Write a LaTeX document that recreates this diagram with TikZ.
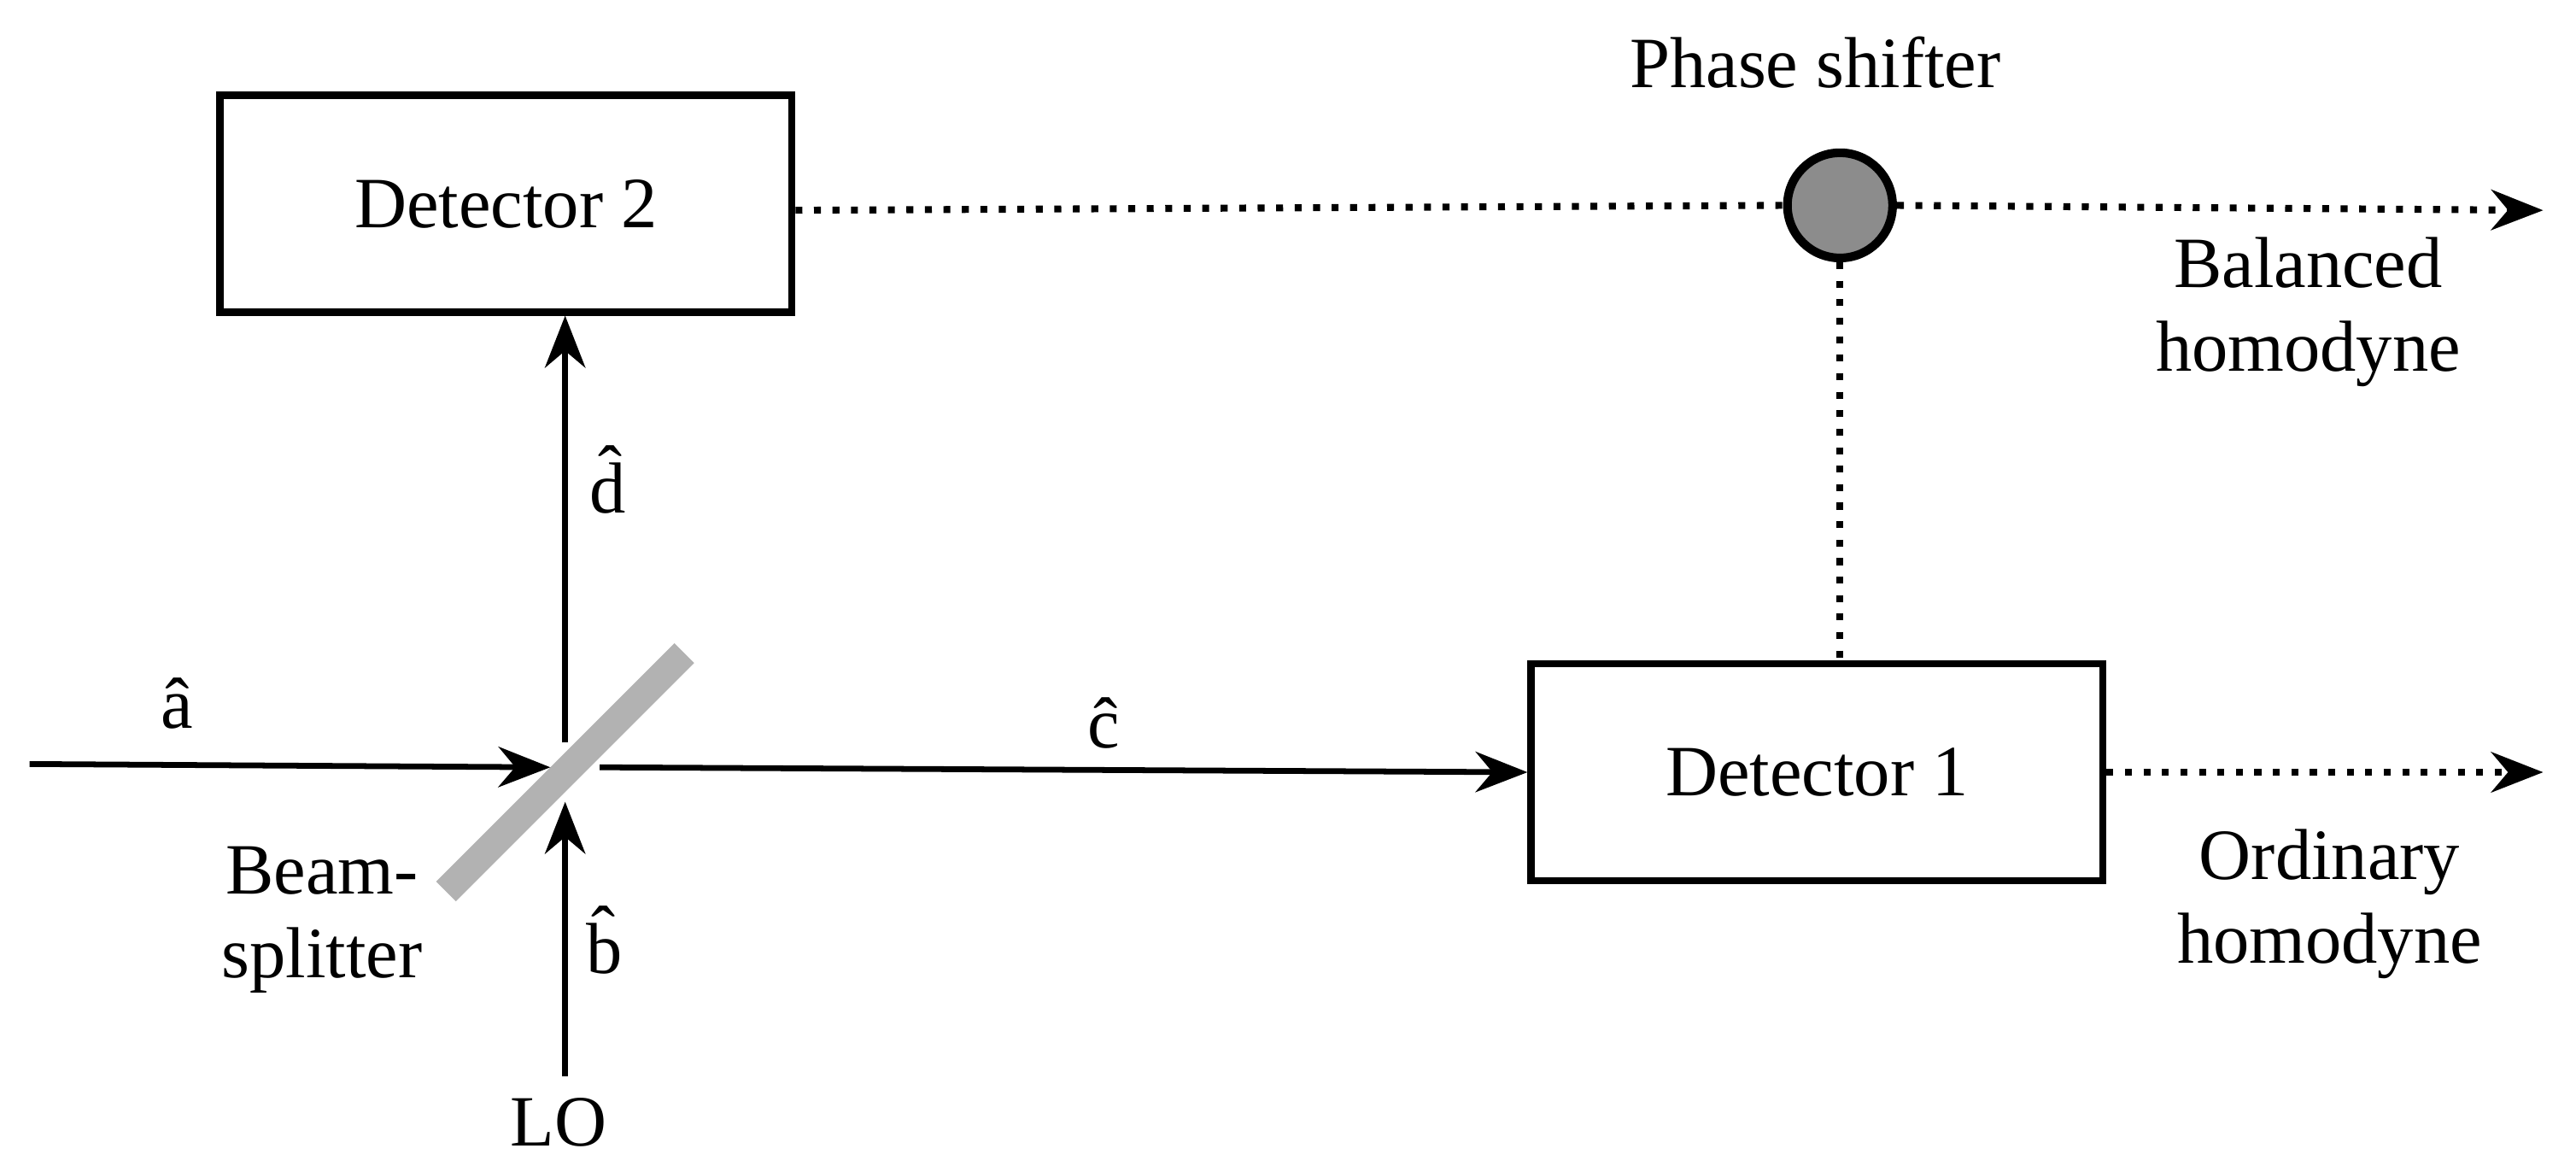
\documentclass[tikz,border=0pt]{standalone}
\usepackage{fontspec}
\setmainfont{Liberation Serif}
\usetikzlibrary{arrows.meta,positioning}

\tikzset{
  det/.style={draw,line width=1.2pt,minimum width=3.48cm,minimum height=1.32cm,font=\fontsize{12.5}{14.5}\selectfont},
  beam/.style={line width=1pt,-{Stealth[length=9pt,width=7pt]}},
  sig/.style={line width=1.2pt,dotted},
  lbl/.style={font=\fontsize{12.5}{14.5}\selectfont,align=center,inner sep=0pt}
}

\begin{document}
\begin{tikzpicture}[x=0.01cm,y=-0.01cm]
   \useasboundingbox (0,0) rectangle (1568,713);

   %% Detektoren
   \node[det] (det2) at (308,124) {Detector 2};
   \node[det] (det1) at (1106,470) {Detector 1};
   \node[draw,circle,line width=1.5pt,fill=black!45,minimum size=0.64cm,inner sep=0pt] (phase) at (1120,125) {};
   \node[lbl] at (1105,38) {Phase shifter};

   %% Strahlteiler
   \node[fill=black!30,rotate=45,minimum width=2.05cm,minimum height=0.17cm,inner sep=0pt] (bs) at (344,470) {};
   \node[lbl] at (196,560) {Beam-\\splitter};

   %% Strahlen
   \coordinate (ain) at (18,465);
   \coordinate (lo) at (344,655);
   \draw[beam] (ain) -- (335,467);
   \draw[beam] (365,467) -- (det1.west);
   \draw[beam] (344,452) -- (det2.south -| 344,0);
   \draw[beam] (lo) -- (344,488);
   \node[lbl] at (108,428) {\^a};
   \node[lbl] at (672,440) {\^c};
   \node[lbl] at (370,292) {\^d};
   \node[lbl] at (368,572) {\^b};
   \node[lbl] at (340,683) {LO};

   %% Signale
   \coordinate (outb) at (1548,128);
   \coordinate (outo) at (1548,470);
   \draw[sig] (det2.east |- 0,128) -- (phase.west);
   \draw[sig,-{Stealth[length=9pt,width=7pt]}] (phase.east) -- (outb);
   \draw[sig] (phase.south) -- (phase.south |- det1.north);
   \draw[sig,-{Stealth[length=9pt,width=7pt]}] (det1.east) -- (outo);
   \node[lbl] at (1405,190) {Balanced\\homodyne};
   \node[lbl] at (1418,550) {Ordinary\\homodyne};
\end{tikzpicture}
\end{document}
